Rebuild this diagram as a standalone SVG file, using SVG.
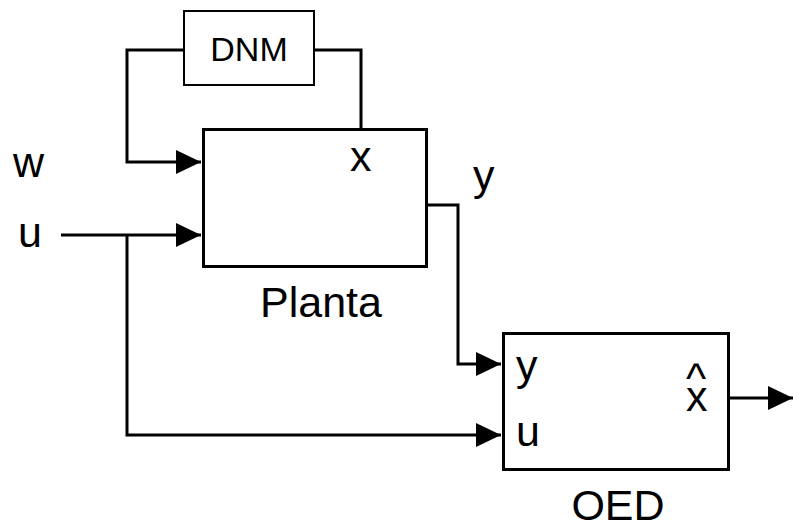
<svg xmlns="http://www.w3.org/2000/svg" width="793" height="529" viewBox="0 0 793 529">
<defs>
<style>
.t{font-family:"Liberation Sans",Arial,sans-serif;fill:#000;font-size:43px}
.box{fill:#fff;stroke:#000;stroke-width:3}
.ln{fill:none;stroke:#000;stroke-width:3}
</style>
<marker id="ah" markerUnits="userSpaceOnUse" markerWidth="26" markerHeight="26" viewBox="0 0 26 26" refX="25" refY="13" orient="auto">
<path d="M0,1 L25,13 L0,25 Z" fill="#000"/>
</marker>
</defs>
<rect width="793" height="529" fill="#fff"/>
<g id="connectors">
<polyline class="ln" points="184,50 127,50 127,162 201,162" marker-end="url(#ah)"/>
<polyline class="ln" points="314,50 361,50 361,129"/>
<line class="ln" x1="61" y1="235" x2="201" y2="235" marker-end="url(#ah)"/>
<polyline class="ln" points="127,235 127,435 501,435" marker-end="url(#ah)"/>
<polyline class="ln" points="427,205 458,205 458,364 501,364" marker-end="url(#ah)"/>
<line class="ln" x1="729" y1="398" x2="793" y2="398" marker-end="url(#ah)"/>
</g>
<g id="dnm">
<rect x="184" y="11" width="130" height="74" fill="#fff" stroke="#000" stroke-width="2"/>
<text class="t" x="249" y="61" text-anchor="middle" style="font-size:34px">DNM</text>
</g>
<g id="planta">
<rect class="box" x="203.5" y="129.5" width="223" height="137"/>
<text class="t" x="350" y="171">x</text>
<text class="t" x="321" y="317" text-anchor="middle">Planta</text>
</g>
<g id="oed">
<rect class="box" x="503.5" y="333.5" width="225" height="136"/>
<text class="t" x="516" y="380">y</text>
<text class="t" x="516" y="446">u</text>
<text class="t"><tspan x="686" y="393">^</tspan><tspan x="686" y="411">x</tspan></text>
<text class="t" x="618" y="520" text-anchor="middle">OED</text>
</g>
<g id="labels">
<text class="t" x="13" y="177">w</text>
<text class="t" x="18" y="247">u</text>
<text class="t" x="473" y="190">y</text>
</g>
</svg>
